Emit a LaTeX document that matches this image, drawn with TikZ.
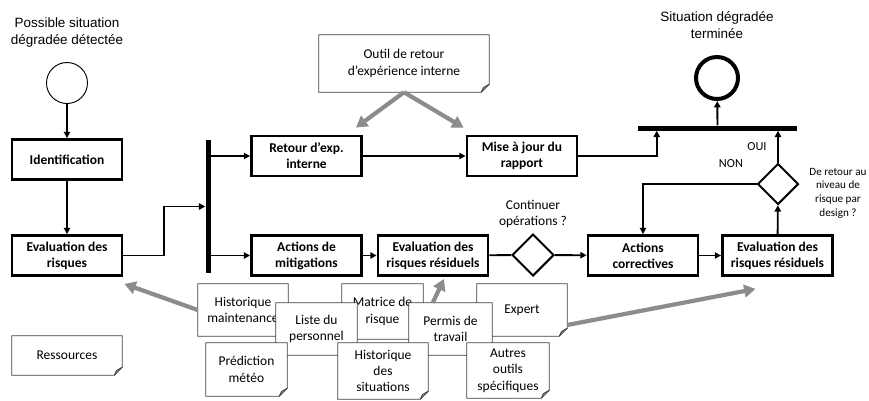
\documentclass[tikz,border=0pt]{standalone}
\usepackage{fontspec}
\setmainfont{Carlito}
\newfontfamily\arialfont{Liberation Sans}
\usetikzlibrary{arrows.meta,shapes.geometric}

% outline of a note with its folded corner
\newcommand{\notecorner}[1]{%
  \draw[black!75,line width=0.8pt] (#1.north west) -- (#1.north east) -- ([yshift=2.4mm]#1.south east)
    -- ([xshift=-2.4mm]#1.south east) -- (#1.south west) -- cycle;
  \draw[black!75,line width=0.8pt] ([xshift=-2.4mm]#1.south east) -- ([xshift=-1.7mm,yshift=1.4mm]#1.south east)
    -- ([yshift=2.4mm]#1.south east);}

\begin{document}
\begin{tikzpicture}[x=0.3mm,y=-0.3mm,
  box/.style={draw,line width=2.4pt,minimum width=33mm,minimum height=12mm,inner sep=1pt,
    align=center,font=\fontsize{11.5}{13.5}\selectfont\bfseries},
  note/.style={fill=white,inner sep=1pt,align=center,font=\fontsize{11.5}{14}\selectfont},
  flow/.style={line width=1.6pt,-{Triangle[length=1.9mm,width=1.9mm]}},
  plain/.style={line width=1.6pt},
  hint/.style={gray!90,line width=3.6pt,-{Triangle[length=3.4mm,width=3.8mm]}},
  decision/.style={diamond,draw,line width=1.7pt,minimum size=12.6mm,inner sep=0pt},
  bar/.style={fill=black,inner sep=0pt},
  lbl/.style={align=center,font=\arialfont\fontsize{11.5}{14.5}\selectfont}]
\useasboundingbox (0,0) rectangle (869,400);

% Start and end
\node[circle,draw,line width=0.8pt,minimum size=12.3mm] (start) at (67,83) {};
\node[lbl] (startlbl) at (67,33) {Possible situation\\dégradée détectée};
\node[circle,draw,line width=3.4pt,minimum size=12.6mm] (end) at (717,78) {};
\node[lbl] (endlbl) at (717,25) {Situation dégradée\\terminée};

% Process
\node[box] (ident) at (67,159.5) {Identification};
\node[box] (evalr) at (67,255.5) {Evaluation des\\risques};
\node[bar,minimum width=1.5mm,minimum height=39.9mm] (fork) at (208,206.5) {};
\node[box] (retour) at (306.5,156) {Retour d’exp.\\interne};
\node[box] (mise) at (522,156) {Mise à jour du\\rapport};
\node[box] (mitig) at (306.5,255.5) {Actions de\\mitigations};
\node[box] (resid) at (433,255.5) {Evaluation des\\risques résiduels};
\node[decision] (cont) at (533,255) {};
\node[align=center,font=\fontsize{11.5}{14}\selectfont] (contlbl) at (533,214) {Continuer\\opérations ?};
\node[box] (corr) at (643,255.5) {Actions\\correctives};
\node[box] (resid2) at (777.5,255.5) {Evaluation des\\risques résiduels};
\node[decision,minimum size=12.3mm] (back) at (778,184) {};
\node[align=center,font=\fontsize{9.5}{11.7}\selectfont] (backlbl) at (838,193) {De retour au\\niveau de\\risque par\\design ?};
\node[font=\fontsize{10.5}{12}\selectfont] (oui) at (757,147) {OUI};
\node[font=\fontsize{10.5}{12}\selectfont] (non) at (731,164) {NON};
\node[bar,minimum width=47.7mm,minimum height=1.5mm] (join) at (717.5,128) {};

% Flow
\draw[flow] (start) -- (ident);
\draw[flow] (ident) -- (evalr);
\draw[flow] (evalr.east) -- ++(41,0) |- (fork.west);
\draw[flow] (fork.east |- retour.west) -- (retour.west);
\draw[flow] (fork.east |- mitig.west) -- (mitig.west);
\draw[flow] (retour) -- (mise);
\draw[flow] (mise.east) -| ([xshift=5.7mm]join.south west);
\draw[flow] (join.north) -- (end);
\draw[flow] (mitig) -- (resid);
\draw[plain] (resid) -- (cont);
\draw[flow] (cont) -- (corr);
\draw[flow] (corr) -- (resid2);
\draw[flow] (resid2) -- (back);
\draw[flow] (back.north) -- (back.north |- join.south);
\draw[flow] (back.west) -| (corr.north);

% Resources
\node[note,minimum width=51mm,minimum height=17.1mm] (outil) at (404,63.5) {Outil de retour\\d’expérience interne}; \notecorner{outil}
\node[note,minimum width=33mm,minimum height=11.7mm] (ress) at (67,355.5) {Ressources}; \notecorner{ress}
\node[note,minimum width=27mm,minimum height=15.6mm] (histm) at (243,310) {Historique\\maintenance}; \notecorner{histm}
\node[note,minimum width=24.3mm,minimum height=16.5mm] (matrice) at (382.5,311.5) {Matrice de\\risque}; \notecorner{matrice}
\node[note,minimum width=27mm,minimum height=15.6mm] (expert) at (522,310) {Expert}; \notecorner{expert}
\node[note,minimum width=24.3mm,minimum height=15.6mm] (liste) at (316.5,329) {Liste du\\personnel}; \notecorner{liste}
\node[note,minimum width=24.9mm,minimum height=15.6mm] (permis) at (450.5,329) {Permis de\\travail}; \notecorner{permis}
\node[note,minimum width=24.3mm,minimum height=15.9mm] (predic) at (246.5,369.5) {Prédiction\\météo}; \notecorner{predic}
\node[note,minimum width=27mm,minimum height=16.8mm] (histsit) at (383,371) {Historique\\des\\situations}; \notecorner{histsit}
\node[note,minimum width=24.6mm,minimum height=16.5mm] (autres) at (508,370.5) {Autres\\outils\\spécifiques}; \notecorner{autres}

% Links to resources
\draw[hint] (outil.south) -- ([shift={(-7,-7)}]retour.north east);
\draw[hint] (outil.south) -- ([shift={(-2,-7)}]mise.north west);
\draw[hint] (histm.west) -- ([shift={(1,7)}]evalr.south east);
\draw[hint] ([xshift=7.2mm]permis.north west) -- ([shift={(11,2)}]resid.south);
\draw[hint] ([yshift=-4.5mm]expert.east) -- ([shift={(-22,12)}]resid2.south);
\end{tikzpicture}
\end{document}
